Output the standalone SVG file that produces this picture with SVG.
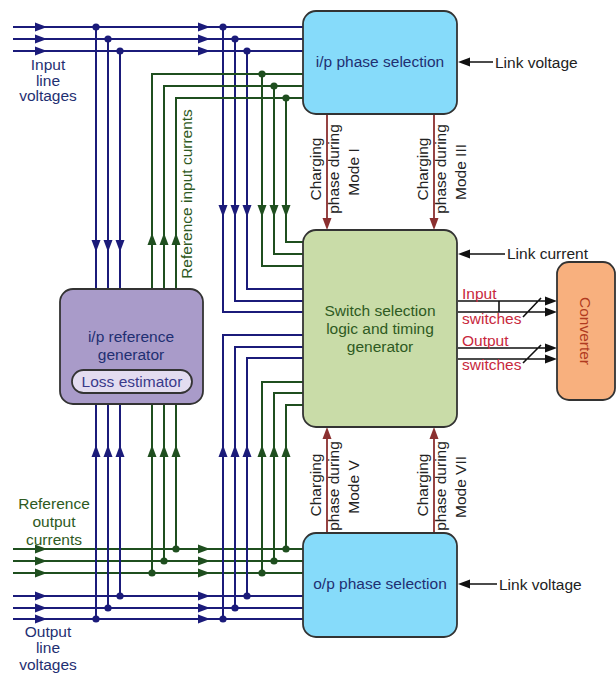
<svg xmlns="http://www.w3.org/2000/svg" xmlns:xlink="http://www.w3.org/1999/xlink" width="616" height="675" viewBox="0 0 616 675">
<style>
text{font-family:"Liberation Sans",Arial,sans-serif;font-size:15.5px}
.bl{stroke:#1b1b7a;stroke-width:2;fill:none}
.gr{stroke:#1f4f1f;stroke-width:2;fill:none}
.rd{stroke:#8b3030;stroke-width:1.8;fill:none}
.bk{stroke:#111;stroke-width:1.6;fill:none}
.fb{fill:#1b1b7a}
.fg{fill:#1f4f1f}
.fr{fill:#8b3030}
.fk{fill:#111}
.box{stroke:#333;stroke-width:1.8}
.tn{fill:#1f2f72}
.tg{fill:#2e5a22}
.tk{fill:#222}
.tr{fill:#c8283c}
.mid{text-anchor:middle}
</style>
<defs>
<path id="ah" d="M0,0 L-12,-4.5 L-12,4.5 Z"/>
<circle id="dot" r="3.6"/>
</defs>
<g id="connectors">
<!-- top input voltage lines -->
<path class="bl" d="M13,27H303M13,39H303M13,51H303"/>
<path class="bl" d="M96,27V289M108,39V289M120,51V289"/>
<path class="bl" d="M223,27V312H303M235,39V301H303M247,51V289H303"/>
<path class="gr" d="M152,289V74H303M164,289V86H303M176,289V98H303"/>
<path class="gr" d="M262,74V266H303M274,86V254H303M286,98V242H303"/>
<g class="fb">
<use xlink:href="#ah" x="47" y="27"/><use xlink:href="#ah" x="47" y="39"/><use xlink:href="#ah" x="47" y="51"/>
<use xlink:href="#ah" x="210" y="27"/><use xlink:href="#ah" x="210" y="39"/><use xlink:href="#ah" x="210" y="51"/>
<use xlink:href="#ah" transform="translate(96,252) rotate(90)"/><use xlink:href="#ah" transform="translate(108,252) rotate(90)"/><use xlink:href="#ah" transform="translate(120,252) rotate(90)"/>
<use xlink:href="#ah" transform="translate(223,217) rotate(90)"/><use xlink:href="#ah" transform="translate(235,217) rotate(90)"/><use xlink:href="#ah" transform="translate(247,217) rotate(90)"/>
<use xlink:href="#dot" x="96" y="27"/><use xlink:href="#dot" x="108" y="39"/><use xlink:href="#dot" x="120" y="51"/>
<use xlink:href="#dot" x="223" y="27"/><use xlink:href="#dot" x="235" y="39"/><use xlink:href="#dot" x="247" y="51"/>
</g>
<g class="fg">
<use xlink:href="#ah" transform="translate(152,233) rotate(-90)"/><use xlink:href="#ah" transform="translate(164,233) rotate(-90)"/><use xlink:href="#ah" transform="translate(176,233) rotate(-90)"/>
<use xlink:href="#ah" transform="translate(262,217) rotate(90)"/><use xlink:href="#ah" transform="translate(274,217) rotate(90)"/><use xlink:href="#ah" transform="translate(286,217) rotate(90)"/>
<use xlink:href="#dot" x="262" y="74"/><use xlink:href="#dot" x="274" y="86"/><use xlink:href="#dot" x="286" y="98"/>
</g>
<!-- bottom lines -->
<path class="gr" d="M13,549H303M13,561H303M13,573H303"/>
<path class="bl" d="M13,596H303M13,608H303M13,619H303"/>
<path class="bl" d="M96,404V619M108,404V608M120,404V596"/>
<path class="gr" d="M152,404V573M164,404V561M176,404V549"/>
<path class="bl" d="M223,619V335H303M235,608V347H303M247,596V358H303"/>
<path class="gr" d="M262,573V382H303M274,561V393H303M286,549V405H303"/>
<g class="fg">
<use xlink:href="#ah" x="47" y="549"/><use xlink:href="#ah" x="47" y="561"/><use xlink:href="#ah" x="47" y="573"/>
<use xlink:href="#ah" x="210" y="549"/><use xlink:href="#ah" x="210" y="561"/><use xlink:href="#ah" x="210" y="573"/>
<use xlink:href="#ah" transform="translate(152,445) rotate(-90)"/><use xlink:href="#ah" transform="translate(164,445) rotate(-90)"/><use xlink:href="#ah" transform="translate(176,445) rotate(-90)"/>
<use xlink:href="#ah" transform="translate(262,445) rotate(-90)"/><use xlink:href="#ah" transform="translate(274,445) rotate(-90)"/><use xlink:href="#ah" transform="translate(286,445) rotate(-90)"/>
<use xlink:href="#dot" x="152" y="573"/><use xlink:href="#dot" x="164" y="561"/><use xlink:href="#dot" x="176" y="549"/>
<use xlink:href="#dot" x="262" y="573"/><use xlink:href="#dot" x="274" y="561"/><use xlink:href="#dot" x="286" y="549"/>
</g>
<g class="fb">
<use xlink:href="#ah" x="47" y="596"/><use xlink:href="#ah" x="47" y="608"/><use xlink:href="#ah" x="47" y="619"/>
<use xlink:href="#ah" x="210" y="596"/><use xlink:href="#ah" x="210" y="608"/><use xlink:href="#ah" x="210" y="619"/>
<use xlink:href="#ah" transform="translate(96,445) rotate(-90)"/><use xlink:href="#ah" transform="translate(108,445) rotate(-90)"/><use xlink:href="#ah" transform="translate(120,445) rotate(-90)"/>
<use xlink:href="#ah" transform="translate(223,445) rotate(-90)"/><use xlink:href="#ah" transform="translate(235,445) rotate(-90)"/><use xlink:href="#ah" transform="translate(247,445) rotate(-90)"/>
<use xlink:href="#dot" x="96" y="619"/><use xlink:href="#dot" x="108" y="608"/><use xlink:href="#dot" x="120" y="596"/>
<use xlink:href="#dot" x="223" y="619"/><use xlink:href="#dot" x="235" y="608"/><use xlink:href="#dot" x="247" y="596"/>
</g>
<!-- charging phase arrows -->
<path class="rd" d="M327,114V220M434,114V220M327,533V437M434,533V437"/>
<g class="fr">
<use xlink:href="#ah" transform="translate(327,230) rotate(90)"/><use xlink:href="#ah" transform="translate(434,230) rotate(90)"/>
<use xlink:href="#ah" transform="translate(327,427) rotate(-90)"/><use xlink:href="#ah" transform="translate(434,427) rotate(-90)"/>
</g>
<!-- link voltage / current -->
<path class="bk" d="M493,62H466M505,254H468M497,584H466"/>
<g class="fk">
<use xlink:href="#ah" transform="translate(458,62) rotate(180)"/>
<use xlink:href="#ah" transform="translate(458,254) rotate(180)"/>
<use xlink:href="#ah" transform="translate(458,584) rotate(180)"/>
</g>
<!-- switch signals to converter -->
<path class="bk" d="M458,301H547M458,312H547M458,348H547M458,359H547M499,301V312M523,317L541,298M523,363L541,345" stroke-width="1.4"/>
<g class="fk">
<use xlink:href="#ah" x="557" y="301"/><use xlink:href="#ah" x="557" y="312"/>
<use xlink:href="#ah" x="557" y="348"/><use xlink:href="#ah" x="557" y="359"/>
</g>
</g>
<g id="ref-generator">
<rect class="box" x="60" y="289" width="143" height="115" rx="13" fill="#a99bc9"/>
<text class="tn mid" x="131" y="342">i/p reference</text>
<text class="tn mid" x="131" y="360">generator</text>
<g id="loss-estimator">
<rect class="box" x="72" y="370" width="120" height="23" rx="11.5" fill="#e3dcf0" stroke-width="1.5"/>
<text class="mid" x="132" y="387" fill="#3a3a8a">Loss estimator</text>
</g>
</g>
<g id="ip-phase-selection">
<rect class="box" x="303" y="11" width="154" height="103" rx="13" fill="#86dbfa"/>
<text class="tn mid" x="380" y="67">i/p phase selection</text>
</g>
<g id="switch-logic">
<rect class="box" x="303" y="230" width="154" height="197" rx="13" fill="#c9dca8"/>
<text class="tg mid" x="380" y="316">Switch selection</text>
<text class="tg mid" x="380" y="334">logic and timing</text>
<text class="tg mid" x="380" y="352">generator</text>
</g>
<g id="op-phase-selection">
<rect class="box" x="303" y="533" width="154" height="104" rx="13" fill="#86dbfa"/>
<text class="tn mid" x="380" y="589">o/p phase selection</text>
</g>
<g id="converter">
<rect class="box" x="557" y="262" width="58" height="138" rx="12" fill="#f8b07e"/>
<text class="mid" transform="translate(580,331) rotate(90)" fill="#b03a20" font-size="16">Converter</text>
</g>
<g id="labels">
<text class="tn mid" x="48" y="70">Input</text>
<text class="tn mid" x="48" y="85.5">line</text>
<text class="tn mid" x="48" y="101">voltages</text>
<text class="tg mid" transform="translate(192,194) rotate(-90)">Reference input currents</text>
<text class="tg mid" x="54" y="509">Reference</text>
<text class="tg mid" x="54" y="527">output</text>
<text class="tg mid" x="54" y="545">currents</text>
<text class="tn mid" x="48" y="637">Output</text>
<text class="tn mid" x="48" y="653">line</text>
<text class="tn mid" x="48" y="670">voltages</text>
<text class="tk" x="495" y="68">Link voltage</text>
<text class="tk" x="507" y="259">Link current</text>
<text class="tk" x="499" y="590">Link voltage</text>
<g font-size="15">
<text class="tk mid" font-size="15" transform="translate(321,169) rotate(-90)">Charging</text>
<text class="tk mid" font-size="15" transform="translate(339,169) rotate(-90)">phase during</text>
<text class="tk mid" font-size="15" transform="translate(359,172) rotate(-90)">Mode I</text>
<text class="tk mid" font-size="15" transform="translate(428,169) rotate(-90)">Charging</text>
<text class="tk mid" font-size="15" transform="translate(446,169) rotate(-90)">phase during</text>
<text class="tk mid" font-size="15" transform="translate(466,172) rotate(-90)">Mode III</text>
<text class="tk mid" font-size="15" transform="translate(321,485) rotate(-90)">Charging</text>
<text class="tk mid" font-size="15" transform="translate(339,486) rotate(-90)">phase during</text>
<text class="tk mid" font-size="15" transform="translate(359,487) rotate(-90)">Mode V</text>
<text class="tk mid" font-size="15" transform="translate(428,485) rotate(-90)">Charging</text>
<text class="tk mid" font-size="15" transform="translate(446,486) rotate(-90)">phase during</text>
<text class="tk mid" font-size="15" transform="translate(466,487) rotate(-90)">Mode VII</text>
</g>
<text class="tr" x="462" y="299">Input</text>
<text class="tr" x="462" y="324">switches</text>
<text class="tr" x="462" y="346">Output</text>
<text class="tr" x="462" y="370">switches</text>
</g>
</svg>
